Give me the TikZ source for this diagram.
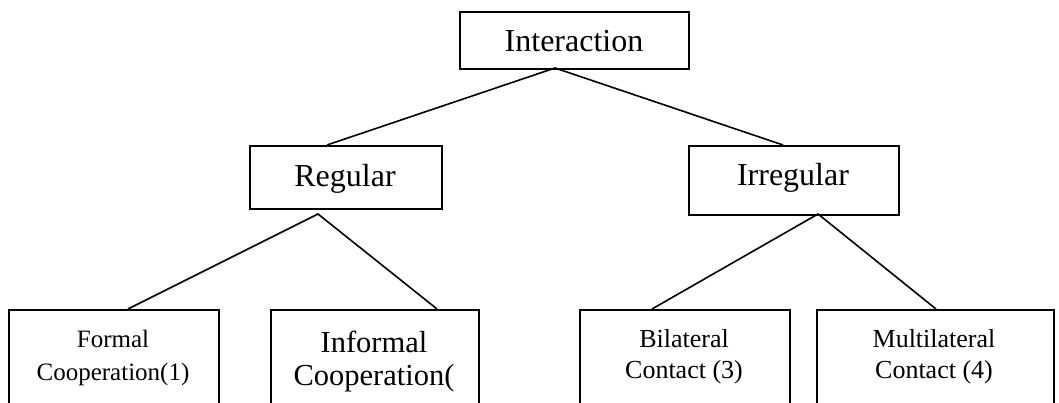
\documentclass[tikz,border=0pt]{standalone}
\usepackage{fontspec}
\setmainfont{Liberation Serif}
\begin{document}
\begin{tikzpicture}[x=1pt,y=-1pt,
  box/.style={draw,line width=1.6pt,inner sep=0pt,anchor=north west},
  link/.style={line width=1.6pt},
  big/.style={font=\fontsize{32}{38}\selectfont,inner sep=0pt},
  txt/.style={inner sep=0pt,anchor=base}]
\useasboundingbox (0,0) rectangle (1059,403);
\clip (0,0) rectangle (1059,403);
% boxes
\node[box,minimum width=229pt,minimum height=57pt] (top) at (459,11) {};
\node[box,minimum width=192pt,minimum height=63pt] (reg) at (249,145) {};
\node[box,minimum width=210pt,minimum height=69pt] (irr) at (688,145) {};
\node[box,minimum width=210pt,minimum height=120pt] (f1) at (8,309) {};
\node[box,minimum width=208pt,minimum height=120pt] (f2) at (270,309) {};
\node[box,minimum width=210pt,minimum height=120pt] (f3) at (579,309) {};
\node[box,minimum width=237pt,minimum height=120pt] (f4) at (816,309) {};
% texts
\node[big,anchor=base] (ttop) at (574,52) {Interaction};
\node[big,anchor=base] (treg) at (345,187) {Regular};
\node[big,anchor=base] (tirr) at (793,186) {Irregular};
\node[txt,font=\fontsize{25}{30}\selectfont] (a1) at (113,347) {Formal};
\node[txt,font=\fontsize{25}{30}\selectfont] (a2) at (113,380) {Cooperation(1)};
\node[txt,font=\fontsize{30.5}{36}\selectfont] (b1) at (374,352) {Informal};
\node[txt,font=\fontsize{30.5}{36}\selectfont] (b2) at (374,385) {Cooperation(};
\node[txt,font=\fontsize{26}{31}\selectfont] (c1) at (684,347) {Bilateral};
\node[txt,font=\fontsize{26}{31}\selectfont] (c2) at (684,378) {Contact (3)};
\node[txt,font=\fontsize{26}{31}\selectfont] (d1) at (934,347) {Multilateral};
\node[txt,font=\fontsize{26}{31}\selectfont] (d2) at (934,378) {Contact (4)};
% connector end points
\coordinate (pt) at (555,68);
\coordinate (pr) at (318,214);
\coordinate (pi) at (818,214);
\coordinate (er) at (327,145);
\coordinate (ei) at (783,145);
\coordinate (e1) at (128,309);
\coordinate (e2) at (437,309);
\coordinate (e3) at (652,309);
\coordinate (e4) at (936,309);
\draw[link] (er) -- (pt) -- (ei);
\draw[link] (e1) -- (pr) -- (e2);
\draw[link] (e3) -- (pi) -- (e4);
\end{tikzpicture}
\end{document}
